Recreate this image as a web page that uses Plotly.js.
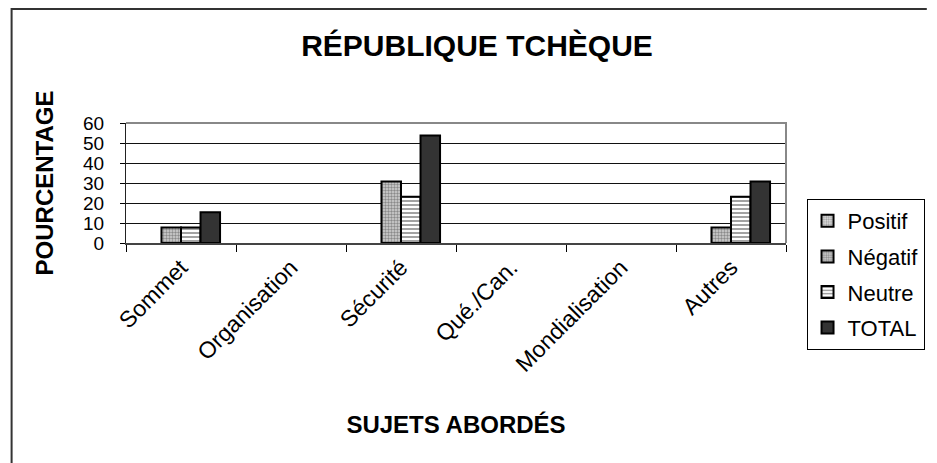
<!DOCTYPE html>
<html>
<head>
<meta charset="utf-8">
<script src="https://cdn.plot.ly/plotly-3.0.1.min.js"></script>
<style>
html,body{margin:0;padding:0;background:#fff;}
#chart{width:937px;height:463px;}
</style>
</head>
<body>
<div id="chart"></div>
<script>
// Data (percentages)
const categories = ["Sommet", "Organisation", "Sécurité", "Qué./Can.", "Mondialisation", "Autres"];
const positif = [0, 0, 0, 0, 0, 0];
const negatif = [7.7, 0, 30.8, 0, 0, 7.7];
const neutre  = [7.7, 0, 23.1, 0, 0, 23.1];
const total   = [15.4, 0, 53.8, 0, 0, 30.8];
const seriesNames = ["Positif", "Négatif", "Neutre", "TOTAL"];
const yTicks = [0, 10, 20, 30, 40, 50, 60];

const FONT = "Liberation Sans, Arial, sans-serif";
const outline = {color: "#000", width: 2};
// zero values are drawn as empty (no flat outlined bar), like the reference
const nz = vals => vals.map(v => (v > 0 ? v : null));

const traces = [
  {name: seriesNames[0], y: nz(positif), marker: {color: "#d8d8d8", line: outline,
     pattern: {shape: ".", fgcolor: "#9a9a9a", bgcolor: "#e2e2e2", size: 3, solidity: 0.45}}},
  {name: seriesNames[1], y: nz(negatif), marker: {color: "#c8c8c8", line: outline,
     pattern: {shape: ".", fgcolor: "#8a8a8a", bgcolor: "#d4d4d4", size: 3, solidity: 0.5}}},
  {name: seriesNames[2], y: nz(neutre), marker: {color: "#ffffff", line: outline,
     pattern: {shape: "-", fgcolor: "#999999", bgcolor: "#ffffff", size: 4, solidity: 0.45}}},
  {name: seriesNames[3], y: nz(total), marker: {color: "#333333", line: outline}}
].map((t, i) => Object.assign({type: "bar", x: categories, legendgroup: "g" + i, hoverinfo: "y+name"}, t));

// plot area: x 126..801, y 123..243
const L = 126, R = 937 - 801, T = 123, B = 463 - 243;
const pw = 801 - 126, ph = 243 - 123;
const px = v => (v - L) / pw;          // pixel x -> paper x
const py = v => (243 - v) / ph;        // pixel y -> paper y

const layout = {
  width: 937, height: 463,
  margin: {l: L, r: R, t: T, b: B, pad: 0},
  paper_bgcolor: "#fff", plot_bgcolor: "#fff",
  font: {family: FONT, color: "#000", size: 22},
  title: {text: "<b>RÉPUBLIQUE TCHÈQUE</b>", font: {family: FONT, size: 30, color: "#000"},
          xref: "container", x: 477 / 937, xanchor: "center",
          yref: "container", y: 1 - 45 / 463, yanchor: "middle"},
  barmode: "group", bargap: 0.29, bargroupgap: 0,
  showlegend: true,
  legend: {x: px(822), xanchor: "left", y: py(199), yanchor: "top", maxheight: 400,
           bgcolor: "#fff", bordercolor: "#000", borderwidth: 1,
           font: {family: FONT, size: 22, color: "#000"},
           traceorder: "grouped", tracegroupgap: 4, itemclick: false},
  xaxis: {type: "category", tickson: "boundaries", ticks: "outside", ticklen: 7, tickwidth: 1, tickcolor: "#000",
          tickangle: -45, tickfont: {family: FONT, size: 23, color: "#000"},
          showline: true, linecolor: "#444", linewidth: 2, showgrid: false, zeroline: false,
          title: {text: "<b>SUJETS ABORDÉS</b>", font: {family: FONT, size: 24, color: "#000"}, standoff: 40},
          fixedrange: true},
  yaxis: {range: [0, 60], tickvals: yTicks, ticktext: yTicks.map(String), ticks: "outside", ticklen: 5, tickcolor: "#000",
          tickfont: {family: FONT, size: 19, color: "#000"}, ticklabelstandoff: 12,
          showline: true, linecolor: "#222", linewidth: 1,
          showgrid: true, gridcolor: "#111", gridwidth: 1, zeroline: false,
          title: {text: "<b>POURCENTAGE</b>", font: {family: FONT, size: 24, color: "#000"}, standoff: 22},
          fixedrange: true},
  shapes: [
    // grey plot-area frame (top and right)
    {type: "path", xref: "paper", yref: "paper", path: "M 0,1 L 1,1 L 1,0",
     line: {color: "#888", width: 2}, layer: "above"},
    // outer chart border (top and left visible)
    {type: "path", xref: "paper", yref: "paper",
     path: `M ${px(9)},${py(470)} L ${px(9)},${py(9)} L ${px(945)},${py(9)}`,
     line: {color: "#333", width: 2}}
  ]
};

Plotly.newPlot("chart", traces, layout, {displayModeBar: false, staticPlot: true});
</script>
</body>
</html>
